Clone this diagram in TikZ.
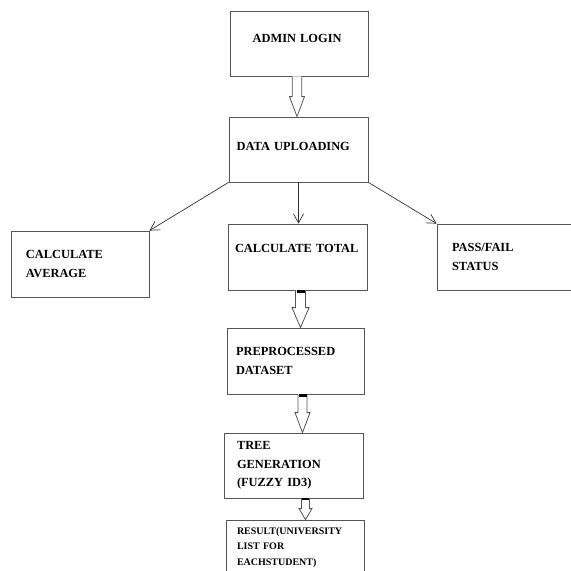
\documentclass[tikz,border=0pt]{standalone}
\usepackage{fontspec}
\setmainfont{Liberation Serif}
\usetikzlibrary{arrows.meta,calc}
\definecolor{cInk}{HTML}{333333}
\definecolor{cEdge}{HTML}{555555}
\tikzset{
  box/.style   ={draw=cEdge,line width=0.8pt,fill=white,minimum width=138pt,
                 minimum height=65pt,inner sep=0pt,align=left,
                 font=\fontsize{12.4}{18.5}\selectfont\bfseries},
  ar/.style    ={-{Straight Barb[length=9pt,width=10pt]},draw=cInk,line width=0.7pt},
  hollow/.style n args={3}{draw=cEdge,line width=0.8pt,fill=white,
                 to path={let \p1=(\tikztostart),\p2=(\tikztotarget) in
                   (\x1-#1,\y1) -- (\x1-#1,\y2+#3) -- (\x1-#2,\y2+#3) -- (\x1,\y2)
                   -- (\x1+#2,\y2+#3) -- (\x1+#1,\y2+#3) -- (\x1+#1,\y1)}},
  plug/.style  ={fill=black},
}
\begin{document}
\begin{tikzpicture}[x=1pt,y=-1pt]
\useasboundingbox (0,0) rectangle (571,571);
\clip (0,0) rectangle (571,571);

% top of the flow
\node[box,text width=92.6pt,text height=8pt,text depth=10.9pt] (admin) at (299,43.5) {ADMIN LOGIN};
\node[box,minimum width=139pt,text width=123.6pt,text height=8pt,text depth=5.5pt] (upload) at (298.5,149.5) {DATA UPLOADING};

% the three branches
\node[box,minimum height=66pt,text width=108pt] (avg) at (80,264) {CALCULATE\\AVERAGE};
\node[box,minimum width=139pt,minimum height=66pt,text width=125pt,text height=8pt,text depth=17.3pt] (total) at (297.5,257) {CALCULATE TOTAL};
\node[box,minimum height=66pt,text width=108pt] (pass) at (506,257) {PASS/FAIL\\STATUS};

% lower chain
\node[box,minimum width=137pt,minimum height=66pt,text width=119pt] (prep) at (295.5,361) {PREPROCESSED\\DATASET};
\node[box,minimum width=139pt,text width=113pt] (tree) at (293.5,465.5) {TREE\\GENERATION\\(FUZZY ID3)};
\node[box,font=\fontsize{10}{15.5}\selectfont\bfseries,text width=116pt,text depth=43pt] (res) at (295,552.5) {RESULT(UNIVERSITY\\LIST FOR\\EACHSTUDENT)};

\draw[hollow={4.8pt}{7.5pt}{20pt}] ([xshift=-2]admin.south) to (upload.north);
\draw[ar] (upload.south west) -- (avg.north east);
\draw[ar] (upload.south) -- (upload.south |- total.north);
\draw[ar] (upload.south east) -- (pass.north west);

\draw[hollow={5pt}{8.5pt}{20pt}] ([xshift=3]total.south) to (prep.north);
\fill[plug] ([xshift=-1]total.south) rectangle ([xshift=7,yshift=-3]total.south);
\draw[hollow={4.5pt}{7.5pt}{20pt}] ([xshift=7]prep.south) to (tree.north);
\fill[plug] ([xshift=3]prep.south) rectangle ([xshift=11,yshift=-3]prep.south);
\draw[hollow={4pt}{6.5pt}{11pt}] ([xshift=12]tree.south) to (res.north);
\fill[plug] ([xshift=8.5]tree.south) rectangle ([xshift=15.5,yshift=-1.5]tree.south);
\end{tikzpicture}
\end{document}
